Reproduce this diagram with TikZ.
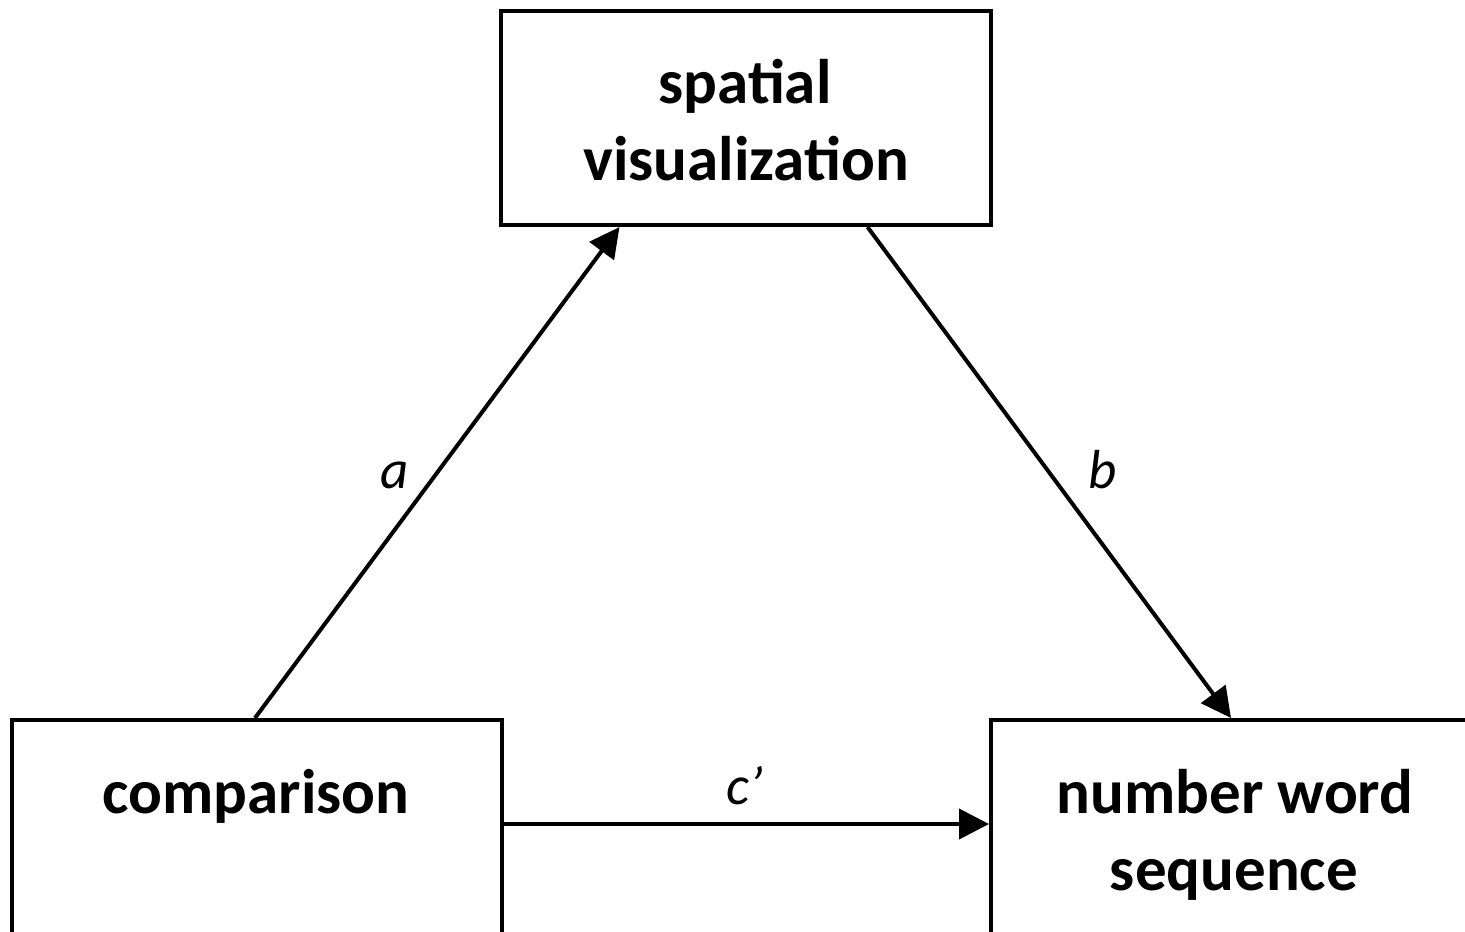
\documentclass[tikz,border=0pt]{standalone}
\usepackage{fontspec}
\setmainfont{Carlito}
\usetikzlibrary{arrows.meta}
\tikzset{
  box/.style={draw=black, line width=4pt, fill=none, inner sep=0pt, shape=rectangle},
  txt/.style={inner sep=0pt, anchor=base, font=\fontsize{63}{77}\selectfont\bfseries},
  lbl/.style={inner sep=0pt, anchor=base, font=\fontsize{55}{64}\selectfont\itshape},
  arr/.style={line width=4pt, -{Triangle[length=30pt,width=30pt]}}
}
\begin{document}
\begin{tikzpicture}[x=1pt,y=-1pt]
\useasboundingbox (0,0) rectangle (1465,932);
\clip (0,0) rectangle (1465,932);
\fill[white] (0,0) rectangle (1465,932);
% boxes
\node[box, minimum width=490pt, minimum height=214pt] (sv) at (745.5,118) {};
\node[box, minimum width=490pt, minimum height=240pt] (cmp) at (257,840) {};
\node[box, minimum width=500pt, minimum height=240pt] (nws) at (1241,840) {};
% texts
\node[txt] (sv1) at (745,103) {spatial};
\node[txt] (sv2) at (746,180) {visualization};
\node[txt] (cmpt) at (256,813) {comparison};
\node[txt] (nws1) at (1235,813) {number word};
\node[txt] (nws2) at (1234,890) {sequence};
% arrows
\draw[arr] ([xshift=245pt]cmp.north west) -- ([xshift=121pt]sv.south west);
\draw[arr] ([xshift=369pt]sv.south west) -- ([xshift=242pt]nws.north west);
\draw[arr] ([yshift=-106pt]cmp.north east) -- ([yshift=-106pt]nws.north west);
% labels
\node[lbl] (la) at (395,488) {a};
\node[lbl] (lb) at (1103,488) {b};
\node[lbl] (lc) at (745,804) {c’};
\end{tikzpicture}
\end{document}
